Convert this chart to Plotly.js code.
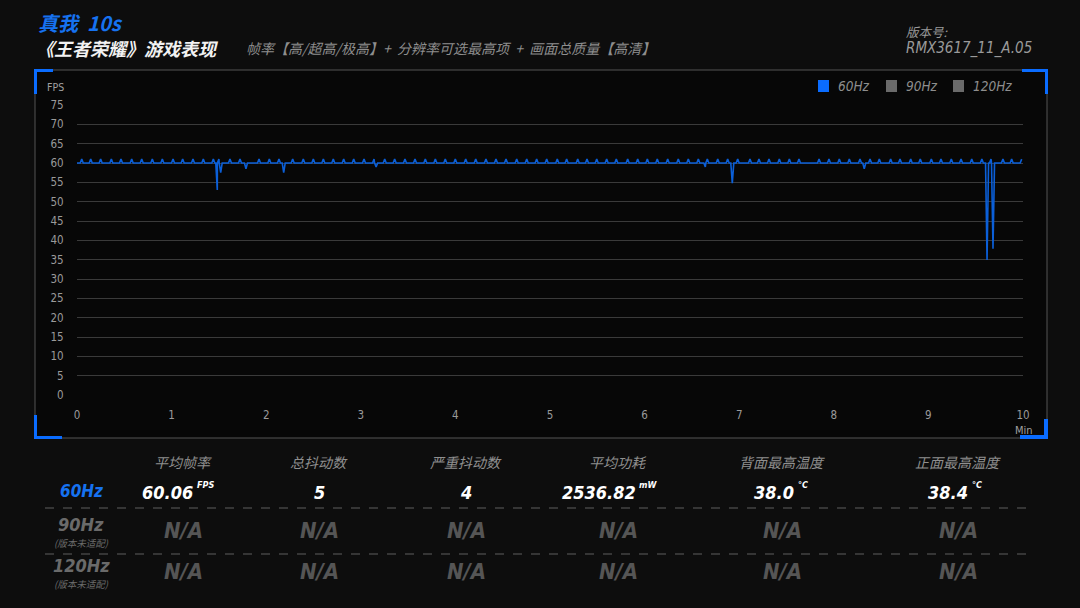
<!DOCTYPE html>
<html><head><meta charset="utf-8">
<script src="https://cdn.plot.ly/plotly-3.0.1.min.js"></script>
<style>html,body{margin:0;padding:0;background:#0d0d0d;}#chart{width:1080px;height:608px;}</style>
</head><body><div id="chart"></div>
<script>
// ---- data ----
const baselineFps = 60;
const peakFps = 61;
const peakTimes = [0.05,0.145,0.25,0.363,0.465,0.578,0.684,0.796,0.902,1.015,1.117,1.226,1.335,1.441,1.50,1.617,1.723,1.924,2.033,2.135,2.28,2.392,2.498,2.604,2.709,2.819,2.925,3.034,3.14,3.253,3.358,3.467,3.573,3.682,3.788,3.893,3.999,4.109,4.215,4.323,4.429,4.535,4.648,4.754,4.859,4.965,5.077,5.176,5.293,5.391,5.494,5.599,5.701,5.821,5.927,6.029,6.134,6.244,6.356,6.462,6.568,6.663,6.773,6.878,6.984,7.114,7.209,7.315,7.424,7.53,7.632,7.844,7.949,8.058,8.164,8.277,8.383,8.481,8.601,8.7,8.813,8.914,9.031,9.133,9.242,9.345,9.458,9.565,9.662,9.788,9.88,9.986];
const dipTimes = [1.483,1.519,1.786,2.185,3.162,6.642,6.927,8.322,9.62,9.683];
const dipFps   = [53,57.5,58.5,57.5,59,59,54.8,58.5,34.9,37.8];
const xTickLabels = ['0','1','2','3','4','5','6','7','8','9','10'];
const yTickValues = [0,5,10,15,20,25,30,35,40,45,50,55,60,65,70,75];
const legendNames = ['60Hz','90Hz','120Hz'];
const metricHeaders = ['平均帧率','总抖动数','严重抖动数','平均功耗','背面最高温度','正面最高温度'];
const rowLabels = ['60Hz','90Hz','120Hz'];
const rowNotes = ['','(版本未适配)','(版本未适配)'];
const row60Values = ['60.06','5','4','2536.82','38.0','38.4'];
const row60Units = ['FPS','','','mW','°C','°C'];
const naValue = 'N/A';

// ---- build line from events ----
const events = peakTimes.map(t=>({t:t,v:peakFps})).concat(dipTimes.map((t,i)=>({t:t,v:dipFps[i]}))).sort((a,b)=>a.t-b.t);
const w = 0.016;
const xs=[0], ys=[baselineFps];
let lastT = 0;
events.forEach((e,i)=>{
  if (e.t - w > lastT) { xs.push(e.t-w); ys.push(baselineFps); }
  xs.push(e.t); ys.push(e.v); lastT = e.t;
  const nxt = events[i+1];
  if (!nxt || nxt.t - w > e.t + w) { if (e.t + w <= 10) { xs.push(e.t+w); ys.push(baselineFps); lastT = e.t+w; } }
});

const W=1080,H=608;
const px=x=>x/W, py=y=>1-y/H;

const CJK = '"Noto Sans CJK SC", sans-serif';
const NUM = '"Liberation Sans Narrow", "DejaVu Sans Condensed", "Roboto", "Noto Sans", sans-serif';
const ann=[], shapes=[];
function txt(text,x,y,size,color,anchor,family,extra){
  ann.push(Object.assign({text:text,x:px(x),y:py(y),xref:'paper',yref:'paper',showarrow:false,
    xanchor:anchor||'left',yanchor:'middle',font:{size:size,color:color,family:family||CJK}},extra||{}));
}
function rect(x0,y0,x1,y1,fill,line){
  shapes.push({type:'rect',xref:'paper',yref:'paper',x0:px(x0),x1:px(x1),y0:py(y1),y1:py(y0),
    fillcolor:fill,line:line||{width:0},layer:'below'});
}
// panel
rect(35,70,1047,438,'#070707',{color:'#555',width:1});
// blue corners
const blue='#0a6cff';
function brect(x0,y0,x1,y1){shapes.push({type:'rect',xref:'paper',yref:'paper',x0:px(x0),x1:px(x1),y0:py(y1),y1:py(y0),fillcolor:blue,line:{width:0}});}
brect(34,69,53,72); brect(34,69,37,94);
brect(1022,69,1048,72); brect(1045,69,1048,94);
brect(34,415,37,439); brect(34,436,62,439);
brect(1044,419,1048,439); brect(1020,435,1048,439);
// dashed table lines
[508,554].forEach(y=>shapes.push({type:'line',xref:'paper',yref:'paper',x0:px(45),x1:px(1027),y0:py(y),y1:py(y),line:{color:'#5e5e5e',width:1,dash:'dash'}}));

// header
txt('<b><i>真我  10s</i></b>',36,22,20,'#1672f0','left');
txt('<b><i>《王者荣耀》游戏表现</i></b>',34,48,18,'#f2f2f2','left');
txt('<i>帧率【高/超高/极高】+  分辨率可选最高项  +  画面总质量【高清】</i>',244,48,14,'#8e8e8e','left');
txt('<i>版本号:</i>',904,31,12.5,'#9a9a9a','left');
txt('<i>RMX3617_11_A.05</i>',904,49,15,'#9a9a9a','left',NUM);

// legend
const legX=[818,886,953], legC=[blue,'#6a6a6a','#6a6a6a'];
legendNames.forEach((n,i)=>{
  rect(legX[i],80,legX[i]+11,92,legC[i]);
  txt('<i>'+n+'</i>',legX[i]+18,86,13.5,'#8e8e8e','left',NUM);
});
txt('FPS',45,87,10.5,'#a0a0a0','left',NUM);
txt('Min',1024,430,11,'#a0a0a0','center',NUM);

// table
const colX=[183,319,466,618,782,958];
metricHeaders.forEach((h,i)=>txt('<i>'+h+'</i>',colX[i],462,14,'#8f8f8f','center'));
const rowY=[491,528,569];
const rowColors=['#1672f0','#6a6a6a','#6a6a6a'];
rowLabels.forEach((r,i)=>{
  txt('<b><i>'+r+'</i></b>',81,rowY[i]-(i?4:0),i?18:17,rowColors[i],'center',NUM);
  if(rowNotes[i]) txt('<i>'+rowNotes[i]+'</i>',81,rowY[i]+15,9.5,'#6a6a6a','center');
});
const valX=[167,319,466,599,774,948];
row60Values.forEach((v,i)=>{
  txt('<b><i>'+v+'</i></b>',valX[i],492,18,'#ffffff','center',NUM);
  if(row60Units[i]){
    const half = v.length*5.1;
    txt('<b><i>'+row60Units[i]+'</i></b>',valX[i]+half+2,485,9,'#ffffff','left',NUM);
  }
});
[1,2].forEach(r=>colX.forEach(x=>txt('<b><i>'+naValue+'</i></b>',x,rowY[r]+2,22,'#555555','center',NUM)));

const trace={x:xs,y:ys,type:'scatter',mode:'lines',line:{color:'#0b5fd8',width:1.6},hoverinfo:'skip',showlegend:false};
const layout={
  width:W,height:H,margin:{l:0,r:0,t:0,b:0},
  paper_bgcolor:'#0d0d0d',plot_bgcolor:'rgba(0,0,0,0)',
  xaxis:{domain:[px(77),px(1023)],range:[0,10],tickvals:[0,1,2,3,4,5,6,7,8,9,10],ticktext:xTickLabels,
    showgrid:false,zeroline:false,showline:false,ticks:'outside',ticklen:9,tickcolor:'rgba(0,0,0,0)',
    tickfont:{size:11.5,color:'#9a9a9a',family:NUM},fixedrange:true},
  yaxis:{domain:[py(395),py(105)],range:[0,75],tickvals:yTickValues,showgrid:true,gridcolor:'#3a3a3a',gridwidth:1,
    zeroline:false,showline:false,ticks:'outside',ticklen:10,tickcolor:'rgba(0,0,0,0)',
    tickfont:{size:11.5,color:'#9a9a9a',family:NUM},fixedrange:true},
  shapes:shapes,annotations:ann,showlegend:false
};
Plotly.newPlot('chart',[trace],layout,{displayModeBar:false,staticPlot:true});
</script></body></html>
